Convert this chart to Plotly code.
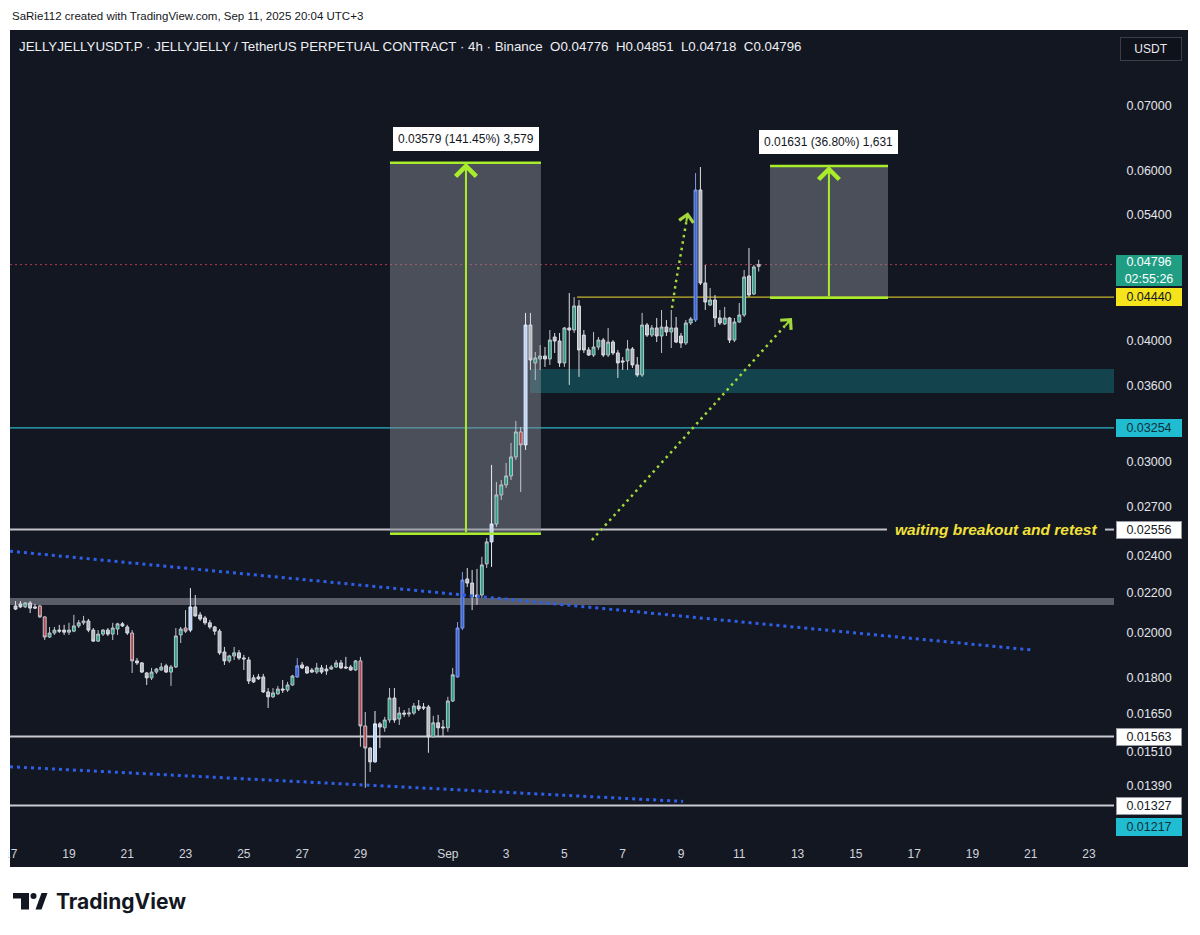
import math
import pandas as pd
import plotly.graph_objects as go

# ---------------- data (4h candles, JELLYJELLYUSDT.P) ----------------
first_candle = "2025-08-17 04:00"
opens = [0.02132,0.02142,0.02127,0.02147,0.02127,0.02132,0.02077,0.01980,0.01999,0.02013,
         0.02013,0.02003,0.02008,0.02033,0.02048,0.02057,0.02013,0.01961,0.01994,0.02013,
         0.01994,0.02018,0.02043,0.02028,0.01999,0.01871,0.01862,0.01818,0.01797,0.01822,
         0.01831,0.01849,0.01822,0.01844,0.01990,0.02023,0.02013,0.02127,0.02087,0.02072,
         0.02048,0.02028,0.02008,0.01911,0.01871,0.01893,0.01907,0.01884,0.01875,0.01797,
         0.01801,0.01801,0.01738,0.01718,0.01730,0.01750,0.01746,0.01767,0.01801,0.01853,
         0.01844,0.01831,0.01822,0.01840,0.01835,0.01835,0.01844,0.01862,0.01844,0.01844,
         0.01831,0.01871,0.01603,0.01521,0.01472,0.01611,0.01596,0.01626,0.01713,0.01630,
         0.01653,0.01649,0.01653,0.01681,0.01677,0.01677,0.01562,0.01615,0.01599,0.01596,
         0.01701,0.01801,0.02023,0.02273,0.02251,0.02188,0.02188,0.02356,0.02482,0.02590,
         0.02775,0.02842,0.02903,0.03037,0.03223,0.03125,0.04155,0.03797,0.03833,0.03860,
         0.03833,0.04038,0.04000,0.03797,0.04126,0.04106,0.04347,0.04057,0.03916,0.03869,
         0.03943,0.04009,0.03869,0.03990,0.03888,0.03815,0.03815,0.03925,0.03779,0.03690,
         0.04155,0.04057,0.04126,0.04048,0.04135,0.04087,0.04126,0.04048,0.03981,0.04175,
         0.04205,0.05726,0.04591,0.04357,0.04409,0.04225,0.04165,0.04225,0.04009,0.04185,
         0.04255,0.04668,0.04473,0.04776]
highs = [0.02157,0.02157,0.02152,0.02157,0.02142,0.02137,0.02080,0.02028,0.02028,0.02038,
         0.02038,0.02048,0.02087,0.02062,0.02082,0.02067,0.02023,0.02013,0.02018,0.02023,
         0.02048,0.02048,0.02052,0.02038,0.02013,0.01884,0.01866,0.01822,0.01840,0.01840,
         0.01862,0.01858,0.01853,0.02023,0.02028,0.02111,0.02224,0.02188,0.02101,0.02082,
         0.02062,0.02033,0.02018,0.01934,0.01898,0.01934,0.01920,0.01898,0.01889,0.01810,
         0.01814,0.01814,0.01754,0.01754,0.01763,0.01788,0.01780,0.01810,0.01884,0.01866,
         0.01849,0.01840,0.01862,0.01853,0.01853,0.01853,0.01875,0.01875,0.01889,0.01853,
         0.01875,0.01889,0.01657,0.01525,0.01661,0.01618,0.01638,0.01754,0.01754,0.01677,
         0.01665,0.01673,0.01693,0.01705,0.01693,0.01685,0.01642,0.01646,0.01626,0.01718,
         0.01840,0.02052,0.02311,0.02333,0.02322,0.02328,0.02396,0.02505,0.02980,0.02862,
         0.02875,0.02994,0.03140,0.03308,0.03261,0.04276,0.04276,0.03897,0.03962,0.03943,
         0.04106,0.04077,0.04077,0.04135,0.04483,0.04441,0.04409,0.04106,0.03943,0.04087,
         0.04038,0.04028,0.04126,0.04009,0.03916,0.03851,0.04009,0.03943,0.03851,0.04276,
         0.04175,0.04155,0.04225,0.04306,0.04205,0.04306,0.04235,0.04077,0.04205,0.04235,
         0.05961,0.06047,0.04791,0.04536,0.04462,0.04306,0.04337,0.04235,0.04225,0.04378,
         0.04735,0.04989,0.04791,0.04851]
lows = [0.02111,0.02121,0.02121,0.02096,0.02116,0.02072,0.01966,0.01976,0.01990,0.01999,
        0.01990,0.01990,0.02003,0.02023,0.02038,0.02003,0.01957,0.01957,0.01985,0.01985,
        0.01966,0.01990,0.02028,0.01990,0.01818,0.01853,0.01818,0.01767,0.01788,0.01814,
        0.01827,0.01818,0.01763,0.01840,0.01952,0.01999,0.02003,0.02077,0.02057,0.02038,
        0.02018,0.01990,0.01898,0.01853,0.01862,0.01875,0.01875,0.01831,0.01771,0.01775,
        0.01788,0.01734,0.01673,0.01713,0.01726,0.01734,0.01738,0.01763,0.01797,0.01835,
        0.01814,0.01818,0.01814,0.01814,0.01810,0.01831,0.01840,0.01835,0.01835,0.01827,
        0.01827,0.01526,0.01384,0.01437,0.01469,0.01521,0.01581,0.01615,0.01615,0.01607,
        0.01638,0.01638,0.01646,0.01661,0.01665,0.01504,0.01560,0.01562,0.01562,0.01581,
        0.01697,0.01797,0.02013,0.02230,0.02111,0.02137,0.02173,0.02333,0.02339,0.02572,
        0.02742,0.02822,0.02875,0.03015,0.02795,0.03088,0.03734,0.03646,0.03734,0.03761,
        0.03779,0.03888,0.03761,0.03761,0.03604,0.04077,0.03673,0.03888,0.03860,0.03851,
        0.03916,0.03851,0.03851,0.03869,0.03664,0.03734,0.03734,0.03752,0.03673,0.03673,
        0.04038,0.04038,0.03990,0.03888,0.04048,0.03934,0.03981,0.03934,0.03962,0.04155,
        0.04185,0.04569,0.04306,0.04347,0.04135,0.04155,0.04155,0.03981,0.03990,0.04175,
        0.04235,0.04441,0.04462,0.04718]
closes = [0.02116,0.02127,0.02147,0.02121,0.02121,0.02077,0.01980,0.01999,0.02013,0.02008,
          0.02003,0.02013,0.02033,0.02048,0.02057,0.02013,0.01961,0.01994,0.02013,0.01994,
          0.02023,0.02043,0.02033,0.01999,0.01871,0.01862,0.01822,0.01797,0.01822,0.01835,
          0.01844,0.01822,0.01844,0.01985,0.02018,0.02008,0.02127,0.02082,0.02067,0.02048,
          0.02028,0.02008,0.01907,0.01871,0.01893,0.01907,0.01884,0.01880,0.01784,0.01780,
          0.01793,0.01738,0.01718,0.01734,0.01750,0.01746,0.01767,0.01805,0.01849,0.01840,
          0.01818,0.01822,0.01840,0.01822,0.01827,0.01844,0.01862,0.01840,0.01840,0.01831,
          0.01871,0.01603,0.01521,0.01472,0.01611,0.01599,0.01626,0.01713,0.01626,0.01653,
          0.01649,0.01653,0.01681,0.01669,0.01673,0.01562,0.01615,0.01596,0.01596,0.01701,
          0.01810,0.02023,0.02267,0.02251,0.02178,0.02178,0.02350,0.02482,0.02590,0.02775,
          0.02842,0.02903,0.03037,0.03223,0.03125,0.04155,0.03824,0.03842,0.03860,0.03833,
          0.04009,0.04000,0.03797,0.04126,0.04106,0.04347,0.03916,0.03916,0.03869,0.03943,
          0.04009,0.03869,0.03990,0.03888,0.03797,0.03806,0.03925,0.03779,0.03690,0.04155,
          0.04057,0.04126,0.04048,0.04135,0.04087,0.04126,0.03990,0.03981,0.04175,0.04215,
          0.05726,0.04591,0.04388,0.04409,0.04225,0.04175,0.04225,0.04009,0.04185,0.04255,
          0.04657,0.04462,0.04769,0.04796]
# candle colour class: g=green up, w=grey down, r=red, b=blue, l=light blue
candle_class = ("wwgwwrrggwwggggwwggwggwwrwwwgggwgggrlwwwwwwwggwwwwwwwggwggbwwwgwwggwwwgrrwlwggwgwggwwwgwwggbbwwwggl"
                "gggggrlwggwgwwgwgwwwggwgwwwgwwgwgwgwgwwggbwwgwwgwgggwgg")

# horizontal levels / tags
last_price, countdown = 0.04796, "02:55:26"
level_yellow = 0.04440
level_cyan = 0.03254
level_breakout = 0.02556
level_low1, level_low2, level_low3 = 0.01563, 0.01327, 0.01217
band_lo, band_hi = 0.02137, 0.02172           # grey band ~0.0216
zone_lo, zone_hi = 0.03536, 0.03743           # teal demand zone
zone_start = "2025-09-03 19:40"
yellow_start = "2025-09-05 10:20"

# measurement boxes
box1_t = ["2025-08-30 00:20", "2025-09-04 04:40"]; box1_arrow_t = "2025-09-01 14:55"
box1_p = [0.02530, 0.06109]; box1_label = "0.03579 (141.45%) 3,579"
box2_t = ["2025-09-12 01:20", "2025-09-16 02:30"]; box2_arrow_t = "2025-09-14 01:50"
box2_p = [0.04432, 0.06063]; box2_label = "0.01631 (36.80%) 1,631"

# trendlines (drawing anchors)
trend_up_t = ["2025-08-16 23:25", "2025-09-21 01:00"]; trend_up_p = [0.02428, 0.01920]
trend_lo_t = ["2025-08-16 23:25", "2025-09-09 01:40"]; trend_lo_p = [0.01455, 0.01340]
lime_t = ["2025-09-05 22:40", "2025-09-12 19:25"]; lime_p = [0.02493, 0.04225]
lime2_t = ["2025-09-08 16:35", "2025-09-08 19:50", "2025-09-09 05:45"]; lime2_p = [0.04327, 0.04601, 0.05431]

y_ticks = [0.07, 0.06, 0.054, 0.04, 0.036, 0.03, 0.027, 0.024, 0.022, 0.02, 0.018, 0.0165, 0.0151, 0.0139]
x_tickvals = ["2025-08-17", "2025-08-19", "2025-08-21", "2025-08-23", "2025-08-25", "2025-08-27", "2025-08-29",
              "2025-09-01", "2025-09-03", "2025-09-05", "2025-09-07", "2025-09-09", "2025-09-11", "2025-09-13",
              "2025-09-15", "2025-09-17", "2025-09-19", "2025-09-21", "2025-09-23"]
x_ticktext = ["17", "19", "21", "23", "25", "27", "29", "Sep", "3", "5", "7", "9", "11", "13", "15", "17", "19", "21", "23"]
x_range = ["2025-08-16 23:25", "2025-09-23 20:36"]
y_range = [0.012082, 0.083733]

# ---------------- styling ----------------
BG = "#131722"
TXT = "#d1d4dc"
LIME = "#a8ec2c"
FONT = "Liberation Sans"
# page-pixel layout of the plot area; the html body adds an 8px margin
OX, OY = 8, 8
FIG_W, FIG_H = 1184, 915
PL, PR, PT, PB = 10, 1114, 30, 845


def fx(px):
    return (px - PL) / (PR - PL)


def fy(py):
    return (PB - py) / (PB - PT)


times = pd.date_range(first_candle, periods=len(opens), freq="4h")

fig = go.Figure()

styles = {
    "g": ("#1fa486", "#bfc3ca"),
    "w": ("#b5b8c0", "#dcdee3"),
    "r": ("#b8454c", "#c4c7ce"),
    "b": ("#3a63d6", "#7f9cec"),
    "l": ("#b9d3f6", "#e2ecfb"),
}
for code, (fill, line) in styles.items():
    idx = [i for i, k in enumerate(candle_class) if k == code]
    fig.add_trace(go.Candlestick(
        x=[times[i] for i in idx],
        open=[opens[i] for i in idx], high=[highs[i] for i in idx],
        low=[lows[i] for i in idx], close=[closes[i] for i in idx],
        increasing=dict(fillcolor=fill, line=dict(color=line, width=1)),
        decreasing=dict(fillcolor=fill, line=dict(color=line, width=1)),
        whiskerwidth=0, showlegend=False, hoverinfo="skip"))

# dotted trendlines
fig.add_trace(go.Scatter(x=trend_up_t, y=trend_up_p, mode="lines",
                         line=dict(color="#2f5fe8", width=3, dash="3px,4px"), hoverinfo="skip", showlegend=False))
fig.add_trace(go.Scatter(x=trend_lo_t, y=trend_lo_p, mode="lines",
                         line=dict(color="#2f5fe8", width=3, dash="3px,4px"), hoverinfo="skip", showlegend=False))
fig.add_trace(go.Scatter(x=lime_t, y=lime_p, mode="lines",
                         line=dict(color="#a3d93a", width=2.5, dash="2.5px,4px"), hoverinfo="skip", showlegend=False))
fig.add_trace(go.Scatter(x=lime2_t, y=lime2_p, mode="lines",
                         line=dict(color="#a3d93a", width=2.5, dash="2.5px,4px"), hoverinfo="skip", showlegend=False))

shapes = []
# dark chart frame (chart + axes area)
shapes.append(dict(type="rect", xref="paper", yref="paper", x0=fx(10), x1=fx(1188), y0=fy(867), y1=fy(30),
                   fillcolor=BG, line=dict(width=0), layer="below"))
# teal zone
shapes.append(dict(type="rect", xref="x", yref="y", x0=zone_start, x1=x_range[1], y0=zone_lo, y1=zone_hi,
                   fillcolor="#13444e", line=dict(width=0), layer="below"))
# grey band
shapes.append(dict(type="rect", xref="paper", yref="y", x0=0, x1=1, y0=band_lo, y1=band_hi,
                   fillcolor="#5a5d67", line=dict(width=0), layer="below"))
# measurement boxes
for bt, bp in ((box1_t, box1_p), (box2_t, box2_p)):
    shapes.append(dict(type="rect", xref="x", yref="y", x0=bt[0], x1=bt[1], y0=bp[0], y1=bp[1],
                       fillcolor="rgba(132,135,146,0.5)", line=dict(width=0), layer="below"))
# levels
shapes.append(dict(type="line", xref="paper", yref="y", x0=0, x1=1, y0=last_price, y1=last_price,
                   line=dict(color="#b03a52", width=1, dash="2px,3px"), layer="below"))
shapes.append(dict(type="line", xref="x", yref="y", x0=yellow_start, x1=x_range[1], y0=level_yellow, y1=level_yellow,
                   line=dict(color="#c9b52a", width=1.2), layer="below"))
shapes.append(dict(type="line", xref="paper", yref="y", x0=0, x1=1, y0=level_cyan, y1=level_cyan,
                   line=dict(color="#2ab3c6", width=1.2), layer="below"))
shapes.append(dict(type="line", xref="paper", yref="y", x0=0, x1=fx(887), y0=level_breakout, y1=level_breakout,
                   line=dict(color="#c2c4ca", width=2), layer="below"))
shapes.append(dict(type="line", xref="paper", yref="y", x0=fx(1105), x1=1, y0=level_breakout, y1=level_breakout,
                   line=dict(color="#c2c4ca", width=2), layer="below"))
for lv in (level_low1, level_low2):
    shapes.append(dict(type="line", xref="paper", yref="y", x0=0, x1=1, y0=lv, y1=lv,
                       line=dict(color="#c9cbd1", width=2), layer="below"))
# lime top / bottom edges of boxes
for bt, bp in ((box1_t, box1_p), (box2_t, box2_p)):
    for p in bp:
        shapes.append(dict(type="line", xref="x", yref="y", x0=bt[0], x1=bt[1], y0=p, y1=p,
                           line=dict(color=LIME, width=2.5)))

# TradingView logo glyph
shapes.append(dict(type="rect", xref="paper", yref="paper", x0=fx(13), x1=fx(29), y0=fy(898.5), y1=fy(893),
                   fillcolor="#131722", line=dict(width=0)))
shapes.append(dict(type="rect", xref="paper", yref="paper", x0=fx(21), x1=fx(29), y0=fy(909.5), y1=fy(893),
                   fillcolor="#131722", line=dict(width=0)))
shapes.append(dict(type="circle", xref="paper", yref="paper", x0=fx(30.5), x1=fx(36.5), y0=fy(899), y1=fy(893),
                   fillcolor="#131722", line=dict(width=0)))
shapes.append(dict(type="path", xref="paper", yref="paper",
                   path=f"M {fx(35.5)},{fy(909.5)} L {fx(41.5)},{fy(893)} L {fx(47.5)},{fy(893)} L {fx(41.5)},{fy(909.5)} Z",
                   fillcolor="#131722", line=dict(width=0)))

annotations = []
L10 = math.log10

# measurement arrows + labels
for at, bp, lab in ((box1_arrow_t, box1_p, box1_label), (box2_arrow_t, box2_p, box2_label)):
    annotations.append(dict(x=at, y=L10(bp[1]), ax=at, ay=L10(bp[0]), xref="x", yref="y", axref="x", ayref="y",
                            showarrow=True, arrowhead=4, arrowsize=2, arrowwidth=2, arrowcolor=LIME,
                            text="", standoff=0))
    annotations.append(dict(x=at, y=L10(bp[1]), xref="x", yref="y", showarrow=False, yanchor="bottom", yshift=12,
                            text=lab, bgcolor="white", borderpad=4, bordercolor="white", borderwidth=1,
                            font=dict(family=FONT, size=12, color="#131722")))

# arrowheads of the dotted lime lines
annotations.append(dict(x=lime_t[-1], y=L10(lime_p[-1]), xref="x", yref="y", ax=-8, ay=9, showarrow=True,
                        arrowhead=4, arrowsize=1.4, arrowwidth=2, arrowcolor="#a3d93a", text=""))
annotations.append(dict(x=lime2_t[-1], y=L10(lime2_p[-1]), xref="x", yref="y", ax=-2, ay=11, showarrow=True,
                        arrowhead=4, arrowsize=1.4, arrowwidth=2, arrowcolor="#a3d93a", text=""))

# breakout text
annotations.append(dict(x=fx(893), y=L10(level_breakout), xref="paper", yref="y", xanchor="left",
                        yanchor="middle", showarrow=False, text="<b><i>waiting breakout and retest</i></b>",
                        font=dict(family=FONT, size=15.5, color="#f2e13a")))


def tag(price, text, bg, fg, yshift=0, height=16, border=None):
    annotations.append(dict(x=1, xref="paper", xanchor="left", xshift=2, y=L10(price), yref="y",
                            yanchor="middle", yshift=yshift, text=text, showarrow=False, bgcolor=bg,
                            bordercolor=border or bg, borderwidth=1, borderpad=0, width=64, height=height,
                            align="center", font=dict(family=FONT, size=12.5, color=fg)))


tag(last_price, f"{last_price:.5f}<br>{countdown}", "#1f9e84", "white", yshift=-6, height=29)
tag(level_yellow, f"{level_yellow:.5f}", "#f5e31b", "#131722")
tag(level_cyan, f"{level_cyan:.5f}", "#1fbcd2", "#10303a")
tag(level_breakout, f"{level_breakout:.5f}", "white", "#131722", border="#9598a1")
tag(level_low1, f"{level_low1:.5f}", "white", "#131722", border="#9598a1")
tag(level_low2, f"{level_low2:.5f}", "white", "#131722", border="#9598a1")
tag(level_low3, f"{level_low3:.5f}", "#1fbcd2", "#10303a", yshift=15)

# header / legend texts
annotations.append(dict(x=fx(10), y=fy(16), xref="paper", yref="paper", xanchor="left", yanchor="middle",
                        showarrow=False, text="SaRie112 created with TradingView.com, Sep 11, 2025 20:04 UTC+3",
                        font=dict(family=FONT, size=11.5, color="#131722")))
annotations.append(dict(x=fx(17), y=fy(46), xref="paper", yref="paper", xanchor="left", yanchor="middle",
                        showarrow=False,
                        text="JELLYJELLYUSDT.P · JELLYJELLY / TetherUS PERPETUAL CONTRACT · 4h · Binance"
                             "  O0.04776  H0.04851  L0.04718  C0.04796",
                        font=dict(family=FONT, size=13.3, color="#eef0f4")))
annotations.append(dict(x=fx(1151), y=fy(49), xref="paper", yref="paper", xanchor="center", yanchor="middle",
                        showarrow=False, text="USDT", bgcolor="#0f121a", bordercolor="#3a3e4a", borderwidth=1,
                        borderpad=4, width=52, font=dict(family=FONT, size=12, color="#e8eaef")))
annotations.append(dict(x=fx(54), y=fy(901), xref="paper", yref="paper", xanchor="left", yanchor="middle",
                        showarrow=False, text="<b>TradingView</b>",
                        font=dict(family="Inter", size=21, color="#131722")))

fig.update_layout(
    width=FIG_W, height=FIG_H,
    margin=dict(l=PL - OX, r=FIG_W - (PR - OX), t=PT - OY, b=FIG_H - (PB - OY)),
    paper_bgcolor="white", plot_bgcolor=BG,
    showlegend=False, shapes=shapes, annotations=annotations,
    font=dict(family=FONT, color=TXT),
    hovermode=False, boxgap=0.15,
)
fig.update_xaxes(type="date", range=x_range, tickvals=x_tickvals, ticktext=x_ticktext, automargin=False,
                 showgrid=False, zeroline=False, showline=False, ticks="", ticklabeloverflow="allow",
                 tickfont=dict(family=FONT, size=12, color=TXT), rangeslider=dict(visible=False))
fig.update_yaxes(type="log", range=[L10(y_range[0]), L10(y_range[1])], side="right", automargin=False,
                 tickvals=y_ticks, ticktext=[f"{v:.5f}" for v in y_ticks],
                 showgrid=False, zeroline=False, showline=False, ticks="outside", ticklen=9, tickcolor=BG,
                 tickfont=dict(family=FONT, size=12.5, color="#e3e5ea"))

fig.write_html("out.html")
